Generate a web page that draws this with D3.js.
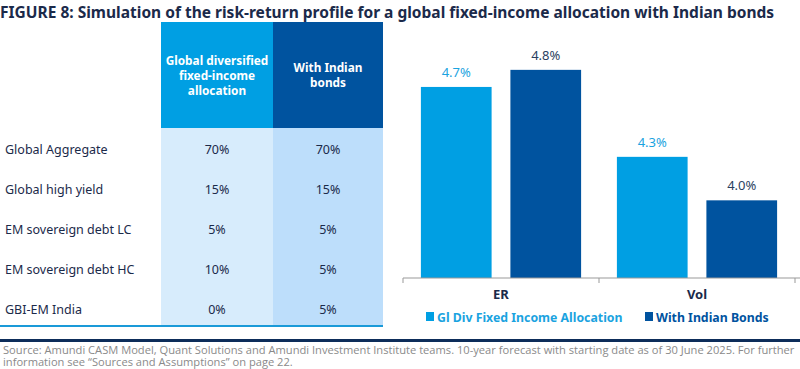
<!DOCTYPE html>
<html><head><meta charset="utf-8">
<script src="https://cdn.jsdelivr.net/npm/d3@7"></script>
<style>
html,body{margin:0;padding:0;background:#fff;}
svg{display:block;font-family:"Noto Sans",sans-serif;}
</style></head>
<body>
<svg id="chart" width="800" height="369"></svg>
<script>
const title = "FIGURE 8: Simulation of the risk-return profile for a global fixed-income allocation with Indian bonds";
const tableHeaders = [["Global diversified","fixed-income","allocation"],["With Indian","bonds"]];
const assets = ["Global Aggregate","Global high yield","EM sovereign debt LC","EM sovereign debt HC","GBI-EM India"];
const globalAlloc = ["70%","15%","5%","10%","0%"];
const indianAlloc = ["70%","15%","5%","5%","5%"];
const categories = ["ER","Vol"];
const seriesNames = ["Gl Div Fixed Income Allocation","With Indian Bonds"];
const globalValues = [4.73, 4.28];
const indianValues = [4.84, 4.00];
const sourceLines = ["Source: Amundi CASM Model, Quant Solutions and Amundi Investment Institute teams. 10-year forecast with starting date as of 30 June 2025. For further","information see \u201cSources and Assumptions\u201d on page 22."];

const LIGHT = "#009fe3", DARK = "#00539f", NAVY = "#1b2a4a";
const svg = d3.select("#chart");

function fitText(sel, w){
  const n = sel.node(); const len = n.getComputedTextLength();
  const fs = parseFloat(sel.attr("font-size"));
  sel.attr("font-size", fs * w / len);
}

// Title
const t = svg.append("text").attr("x",0).attr("y",18).attr("font-size",15)
  .attr("font-weight","bold").attr("fill",NAVY).text(title);
fitText(t, 775);

// Table
const colX = d3.scaleOrdinal().domain([0,1]).range([161,273]);
const headerColors = [LIGHT, DARK];
const bodyColors = ["#d7ecfc","#bddefb"];
const rowY = d3.scalePoint().domain(assets).range([149,309]);

svg.selectAll("rect.body").data([0,1]).join("rect").attr("class","body")
  .attr("x",d=>colX(d)).attr("y",128).attr("width",d=>d===0?112:110).attr("height",198)
  .attr("fill",d=>bodyColors[d]);
svg.selectAll("rect.head").data([0,1]).join("rect").attr("class","head")
  .attr("x",d=>colX(d)).attr("y",22).attr("width",d=>d===0?112:110).attr("height",106)
  .attr("fill",d=>headerColors[d]);
tableHeaders.forEach((lines,i)=>{
  const n = lines.length;
  lines.forEach((ln,j)=>{
    svg.append("text").attr("x",colX(i)+ (i===0?56:55)).attr("y",75.5 + (j-(n-1)/2)*14.8 + 4.3)
      .attr("text-anchor","middle").attr("font-size",11.8).attr("font-weight","bold")
      .attr("fill","#fff").text(ln);
  });
});
svg.selectAll("text.asset").data(assets).join("text").attr("class","asset")
  .attr("x",5).attr("y",d=>rowY(d)+4.5).attr("font-size",12.5).attr("fill",NAVY).text(d=>d);
svg.selectAll("text.v1").data(globalAlloc).join("text").attr("class","v1")
  .attr("x",217).attr("y",(d,i)=>rowY(assets[i])+4.5).attr("text-anchor","middle")
  .attr("font-size",12.5).attr("fill",NAVY).text(d=>d);
svg.selectAll("text.v2").data(indianAlloc).join("text").attr("class","v2")
  .attr("x",328).attr("y",(d,i)=>rowY(assets[i])+4.5).attr("text-anchor","middle")
  .attr("font-size",12.5).attr("fill",NAVY).text(d=>d);
svg.append("line").attr("x1",0).attr("x2",383).attr("y1",326).attr("y2",326)
  .attr("stroke","#1a9ad8").attr("stroke-width",2);

// Bar chart
const x0 = d3.scaleBand().domain(categories).range([403,795]);
const x1 = d3.scaleBand().domain([0,1]).range([0,x0.bandwidth()]).paddingInner(0.21).paddingOuter(0.2);
const y = d3.scaleLinear().domain([3.5,5.0]).range([278,45]);
const fmt = d3.format(".1f");
const barData = [];
categories.forEach((c,i)=>{
  barData.push({c, s:0, v:globalValues[i]});
  barData.push({c, s:1, v:indianValues[i]});
});
svg.selectAll("rect.bar").data(barData).join("rect").attr("class","bar")
  .attr("x",d=>x0(d.c)+x1(d.s)).attr("width",x1.bandwidth())
  .attr("y",d=>y(d.v)).attr("height",d=>y(3.5)-y(d.v))
  .attr("fill",d=>d.s===0?LIGHT:DARK);
svg.selectAll("text.lbl").data(barData).join("text").attr("class","lbl")
  .attr("x",d=>x0(d.c)+x1(d.s)+x1.bandwidth()/2).attr("y",d=>y(d.v)-10)
  .attr("text-anchor","middle").attr("font-size",13)
  .attr("fill",d=>d.s===0?"#1aa3e0":"#2a3f5f").text(d=>fmt(d.v)+"%");

const xAxis = d3.axisBottom(x0).tickSizeInner(0).tickSizeOuter(0).tickPadding(12);
const ax = svg.append("g").attr("transform","translate(0,278)").call(xAxis);
ax.select(".domain").attr("stroke","#999").attr("d","M403,0H800");
ax.selectAll(".tick text").attr("font-size",13).attr("font-weight","bold").attr("fill",NAVY)
  .attr("font-family","Noto Sans");
[403,599,795].forEach(xx=>{
  ax.append("line").attr("x1",xx).attr("x2",xx).attr("y1",0).attr("y2",5).attr("stroke","#999");
});

// Legend
const legX = [426,645];
seriesNames.forEach((s,i)=>{
  svg.append("rect").attr("x",legX[i]).attr("y",312).attr("width",8).attr("height",9)
    .attr("fill",i===0?LIGHT:DARK);
  svg.append("text").attr("x",legX[i]+11).attr("y",321.5).attr("font-size",12.3)
    .attr("font-weight","bold").attr("fill",i===0?"#1aa3e0":DARK).text(s);
});

// Bottom rule and source
svg.append("rect").attr("x",0).attr("y",339).attr("width",800).attr("height",3).attr("fill","#0d2d5a");
const src = svg.append("g").attr("font-family","'Open Sans',sans-serif").attr("font-size",11.5).attr("fill","#8a8a8a");
const s1 = src.append("text").attr("x",0).attr("y",354).text(sourceLines[0]);
const sx = 792 / s1.node().getComputedTextLength();
src.attr("transform",`translate(3,0) scale(${sx},1)`);
src.append("text").attr("x",0).attr("y",366).text(sourceLines[1]);
</script>
</body></html>
